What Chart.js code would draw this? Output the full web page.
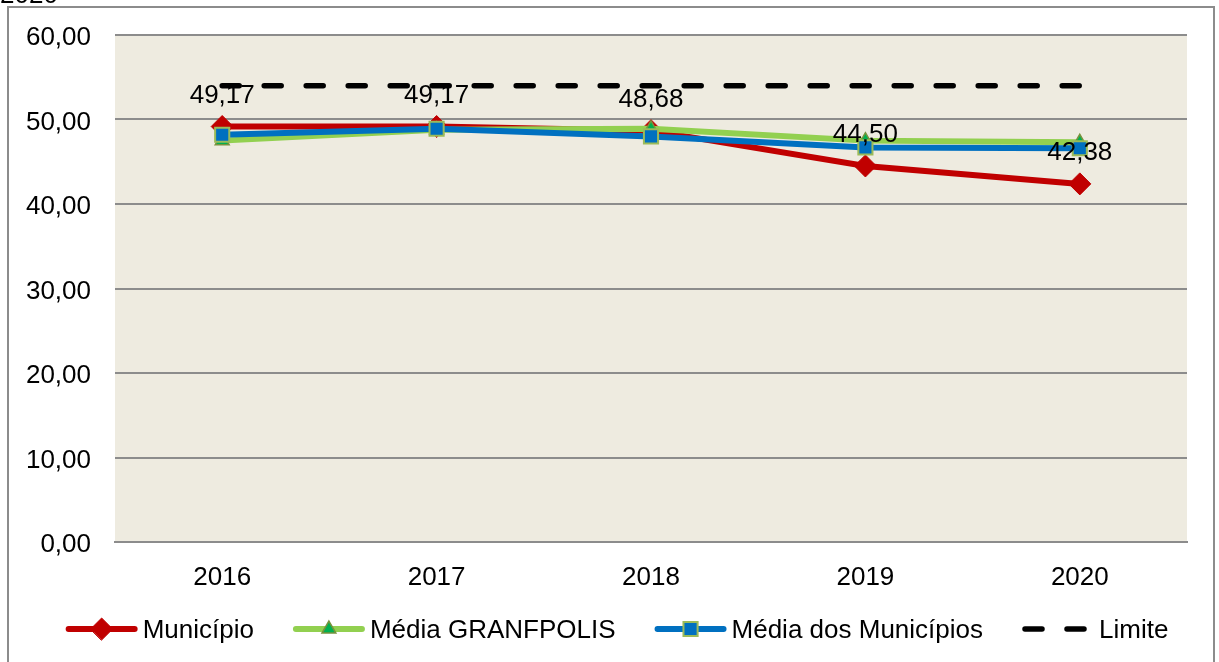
<!DOCTYPE html>
<html><head><meta charset="utf-8">
<script src="https://cdn.jsdelivr.net/npm/chart.js@4.4.1/dist/chart.umd.min.js"></script>
<style>html,body{margin:0;padding:0;background:#fff;overflow:hidden}#wrap{width:1219px;height:662px;position:relative}</style>
</head><body><div id="wrap"><canvas id="c" width="1219" height="662"></canvas></div>
<script>
const categories = ['2016', '2017', '2018', '2019', '2020'];
const municipio = [49.17, 49.17, 48.68, 44.50, 42.38];
const mediaGranfpolis = [47.5, 48.8, 48.9, 47.5, 47.3];
const mediaMunicipios = [48.2, 48.9, 48.0, 46.7, 46.6];
const limite = [54, 54, 54, 54, 54];
const yTickValues = [0, 10, 20, 30, 40, 50, 60];
const seriesNames = ['Município', 'Média GRANFPOLIS', 'Média dos Municípios', 'Limite'];
const topClippedText = '2020';

const FONT = '"Liberation Sans", Arial, sans-serif';
const fmt = v => v.toFixed(2).replace('.', ',');

const datasets = [
  { label: seriesNames[0], data: municipio, borderColor: '#C00000', backgroundColor: '#C00000',
    borderWidth: 6, pointStyle: 'rectRot', pointRadius: 11, pointBorderColor: '#C00000',
    pointBackgroundColor: '#C00000', pointBorderWidth: 1, order: 3 },
  { label: seriesNames[1], data: mediaGranfpolis, borderColor: '#92D050', backgroundColor: '#00B050',
    borderWidth: 6, pointStyle: 'triangle', pointRadius: 8, pointBorderColor: '#77933C',
    pointBackgroundColor: '#00B050', pointBorderWidth: 1.5, order: 2 },
  { label: seriesNames[2], data: mediaMunicipios, borderColor: '#0070C0', backgroundColor: '#0070C0',
    borderWidth: 6, pointStyle: 'rect', pointRadius: 10, pointBorderColor: '#9BBB59',
    pointBackgroundColor: '#0070C0', pointBorderWidth: 2, order: 1 },
  { label: seriesNames[3], data: limite, borderColor: '#000000', backgroundColor: '#000000',
    borderWidth: 5.5, borderDash: [17, 25], borderCapStyle: 'round', pointRadius: 0, order: 4 }
];

const bgPlugin = {
  id: 'bg',
  beforeDraw(chart) {
    const ctx = chart.ctx, a = chart.chartArea;
    ctx.save();
    ctx.fillStyle = '#fff';
    ctx.fillRect(0, 0, chart.width, chart.height);
    ctx.strokeStyle = '#8c8c8c';
    ctx.lineWidth = 2;
    ctx.strokeRect(8, 7, 1206, 720);
    ctx.fillStyle = '#000';
    ctx.font = '26px ' + FONT;
    ctx.textBaseline = 'alphabetic';
    ctx.fillText(topClippedText, 0, 3);
    ctx.fillStyle = '#EEEBE0';
    ctx.fillRect(a.left, a.top, a.right - a.left, a.bottom - a.top);
    ctx.restore();
  }
};

const labelPlugin = {
  id: 'labels',
  afterDatasetsDraw(chart) {
    const ctx = chart.ctx;
    const meta = chart.getDatasetMeta(0);
    ctx.save();
    ctx.fillStyle = '#000';
    ctx.font = '26px ' + FONT;
    ctx.textAlign = 'center';
    ctx.textBaseline = 'middle';
    meta.data.forEach((pt, i) => {
      ctx.fillText(fmt(municipio[i]), pt.x, pt.y - 31);
    });
    ctx.restore();
  }
};

const legendPlugin = {
  id: 'customLegend',
  afterDraw(chart) {
    const ctx = chart.ctx;
    ctx.save();
    ctx.font = '26px ' + FONT;
    const sampleW = 72, textGap = 5, itemGap = 39;
    const widths = datasets.map(d => sampleW + textGap + ctx.measureText(d.label).width);
    const total = widths.reduce((s, w) => s + w, 0) + itemGap * (datasets.length - 1);
    let x = 617 - total / 2;
    const y = 629;
    datasets.forEach((d, i) => {
      ctx.save();
      ctx.strokeStyle = d.borderColor;
      ctx.lineWidth = d.borderWidth;
      ctx.lineCap = 'round';
      if (d.borderDash) {
        ctx.setLineDash(d.borderDash);
        ctx.beginPath();
        ctx.moveTo(x + 3, y);
        ctx.lineTo(x + sampleW - 3, y);
        ctx.stroke();
      } else {
        ctx.beginPath();
        ctx.moveTo(x + 3, y);
        ctx.lineTo(x + sampleW - 3, y);
        ctx.stroke();
        ctx.setLineDash([]);
        ctx.fillStyle = d.pointBackgroundColor;
        ctx.strokeStyle = d.pointBorderColor;
        ctx.lineWidth = d.pointBorderWidth;
        Chart.helpers.drawPoint(ctx, { pointStyle: d.pointStyle, radius: d.pointRadius, rotation: 0, borderWidth: d.pointBorderWidth }, x + sampleW / 2, y);
      }
      ctx.restore();
      ctx.fillStyle = '#000';
      ctx.textBaseline = 'middle';
      ctx.textAlign = 'left';
      ctx.fillText(d.label, x + sampleW + textGap, y + 2);
      x += widths[i] + itemGap;
    });
    ctx.restore();
  }
};

new Chart(document.getElementById('c'), {
  type: 'line',
  data: { labels: categories, datasets },
  options: {
    responsive: false,
    animation: false,
    devicePixelRatio: 1,
    layout: { padding: { top: 35, right: 32, left: 0, bottom: 0 } },
    plugins: { legend: { display: false }, tooltip: { enabled: false } },
    elements: { line: { tension: 0 } },
    scales: {
      x: {
        offset: true,
        grid: { display: false, drawTicks: false },
        border: { display: true, color: '#8c8c8c', width: 2 },
        ticks: { color: '#000', font: { family: FONT, size: 26 }, padding: 20 },
        afterFit: s => { s.height = 120; }
      },
      y: {
        min: 0, max: 60,
        afterBuildTicks: s => { s.ticks = yTickValues.map(v => ({ value: v })); },
        grid: { color: '#8c8c8c', lineWidth: 2, drawTicks: false },
        border: { display: false },
        ticks: { color: '#000', font: { family: FONT, size: 26, lineHeight: 0.6 }, padding: 24, labelOffset: 3, callback: v => fmt(v) },
        afterFit: s => { s.width = 115; s.paddingTop = 0; s.paddingBottom = 0; }
      }
    }
  },
  plugins: [bgPlugin, labelPlugin, legendPlugin]
});
</script>
</body></html>
